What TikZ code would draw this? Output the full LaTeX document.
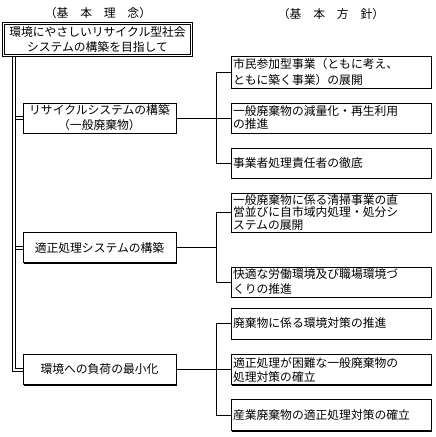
\documentclass[tikz,border=0pt]{standalone}
\usepackage{fontspec}
\setmainfont{Noto Sans CJK JP}
\usetikzlibrary{shadows}
\begin{document}
\begin{tikzpicture}[x=1pt,y=-1pt,
  every node/.style={font=\fontsize{11.8pt}{14pt}\selectfont},
  line/.style={draw=black,line width=0.8pt},
  topbox/.style={draw=black,line width=0.8pt,double=white,double distance=1.6pt,fill=white,
    minimum width=188pt,minimum height=32pt,inner sep=0pt,align=center},
  mainbox/.style={draw=black,line width=0.8pt,fill=white,minimum width=153pt,minimum height=30pt,
    inner sep=0pt,align=center,
    drop shadow={shadow xshift=1.3pt,shadow yshift=-1.3pt,opacity=1,fill=black}},
  subbox/.style={draw=black,line width=0.8pt,fill=white,text width=196pt,inner xsep=2pt,inner ysep=0pt,
    align=left,
    drop shadow={shadow xshift=1.3pt,shadow yshift=-1.3pt,opacity=1,fill=black}},
  head/.style={inner sep=0pt}
]
\useasboundingbox (0,0) rectangle (436,437);
\fill[white] (0,0) rectangle (436,437);

% headers
\node[head] (h1) at (98,13) {（基　本　理　念）};
\node[head] (h2) at (331,14) {（基　本　方　針）};

% top box
\node[topbox,font=\fontsize{11.8pt}{15pt}\selectfont] (top) at (97.5,39.5) {環境にやさしいリサイクル型社会\\システムの構築を目指して};

% main boxes
\node[mainbox,font=\fontsize{11.8pt}{15pt}\selectfont] (b1) at (99.5,118) {リサイクルシステムの構築\\（一般廃棄物）};
\node[mainbox] (b2) at (99.5,247.5) {適正処理システムの構築};
\node[mainbox] (b3) at (99.5,369.5) {環境への負荷の最小化};

% sub boxes
\node[subbox,minimum height=32pt,font=\fontsize{11.8pt}{16pt}\selectfont] (s1) at (331,72) {市民参加型事業（ともに考え、\\ともに築く事業）の展開};
\node[subbox,minimum height=30pt,font=\fontsize{11.8pt}{13pt}\selectfont] (s2) at (331,118) {一般廃棄物の減量化・再生利用\\の推進};
\node[subbox,minimum height=30pt] (s3) at (331,163) {事業者処理責任者の徹底};
\node[subbox,minimum height=39pt,font=\fontsize{11.8pt}{12.8pt}\selectfont] (s4) at (331,212.5) {一般廃棄物に係る清掃事業の直\\営並びに自市域内処理・処分シ\\ステムの展開};
\node[subbox,minimum height=30pt,font=\fontsize{11.8pt}{15pt}\selectfont] (s5) at (331,282) {快適な労働環境及び職場環境づ\\くりの推進};
\node[subbox,minimum height=31pt] (s6) at (331,323.5) {廃棄物に係る環境対策の推進};
\node[subbox,minimum height=30pt,font=\fontsize{11.8pt}{14pt}\selectfont] (s7) at (331,369.5) {適正処理が困難な一般廃棄物の\\処理対策の確立};
\node[subbox,minimum height=31pt] (s8) at (331,415) {産業廃棄物の適正処理対策の確立};

% bus coordinates
\coordinate (lva) at (12.5,0);
\coordinate (lvb) at (15.5,0);
\coordinate (rv) at (216,0);

% left double connectors (two parallel lines)
\draw[line] ([yshift=1.5pt]b1.west -| lvb) -- ([yshift=1.5pt]b1.west);
\draw[line] ([yshift=-1.5pt]b1.west -| lvb) -- ([yshift=-1.5pt]b1.west);
\draw[line] ([yshift=1.5pt]b2.west -| lvb) -- ([yshift=1.5pt]b2.west);
\draw[line] ([yshift=-1.5pt]b2.west -| lvb) -- ([yshift=-1.5pt]b2.west);
\draw[line] (top.south -| lva) -- ([yshift=-1.5pt]b3.west -| lva) -- ([yshift=-1.5pt]b3.west);
\draw[line] (top.south -| lvb) -- ([yshift=1.5pt]b3.west -| lvb) -- ([yshift=1.5pt]b3.west);

% right connectors
\draw[line] (b1.east) -- (s2.west);
\draw[line] (s1.west) -- (s1.west -| rv) |- (s3.west);
\draw[line] (b2.east) -- (b2.east -| rv);
\draw[line] (s4.west) -- (s4.west -| rv) |- (s5.west);
\draw[line] (b3.east) -- (s7.west);
\draw[line] (s6.west) -- (s6.west -| rv) |- (s8.west);
\end{tikzpicture}
\end{document}
